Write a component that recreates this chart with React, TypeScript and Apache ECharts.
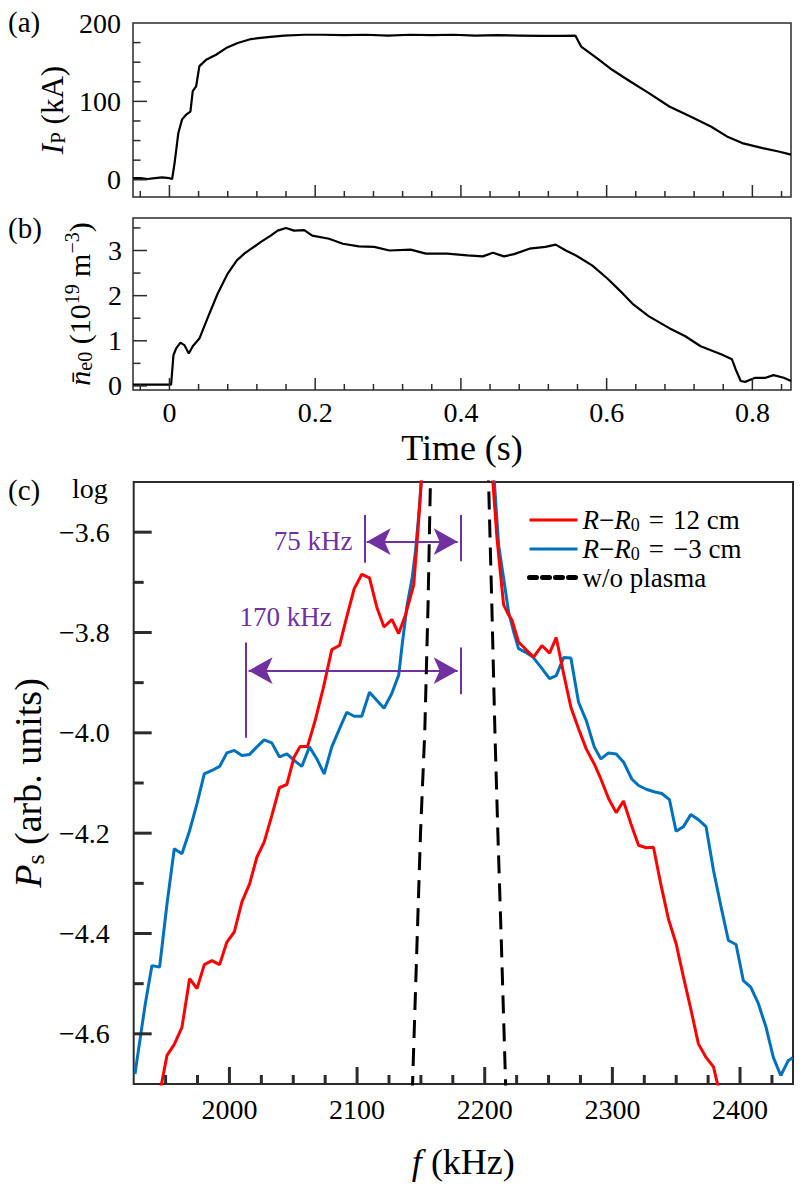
import React, { useEffect, useRef } from 'react';
import * as echarts from 'echarts';

const FONT = 'Liberation Serif';
const PURPLE = '#7030A0';
const AXC = '#2b2b2b';

// ---------- Panel (a): plasma current ----------
const timeA = [-0.05, -0.04, -0.03, -0.02, -0.01, 0.0, 0.0037, 0.007, 0.0123, 0.0174, 0.0229, 0.0288, 0.032, 0.0366, 0.0411, 0.0503, 0.064, 0.0777, 0.0937, 0.112, 0.135, 0.1575, 0.185, 0.21, 0.24, 0.27, 0.3, 0.33, 0.36, 0.39, 0.42, 0.45, 0.48, 0.51, 0.54, 0.557, 0.565, 0.587, 0.608, 0.633, 0.658, 0.686, 0.715, 0.743, 0.765, 0.786, 0.814, 0.836, 0.853];
const currentA = [2, 2, 1, 2, 3, 2, 1, 21, 60, 77, 83, 87, 113, 119, 145, 153, 159.5, 168, 174.5, 179.5, 182, 184, 185, 185, 184.5, 185, 184, 185, 184.5, 185, 184, 184.5, 184, 183.5, 183.5, 184, 170, 155, 140, 125, 110.6, 93.5, 80.8, 68, 55.3, 46.8, 40.4, 36, 32];

// ---------- Panel (b): line-averaged density ----------
const timeB = [-0.05, -0.02, 0.0023, 0.0055, 0.0092, 0.0151, 0.0205, 0.0266, 0.032, 0.0411, 0.0548, 0.0663, 0.08, 0.0925, 0.1027, 0.1256, 0.139, 0.1485, 0.16, 0.171, 0.185, 0.196, 0.219, 0.238, 0.26, 0.281, 0.302, 0.331, 0.352, 0.381, 0.409, 0.43, 0.444, 0.459, 0.473, 0.494, 0.516, 0.53, 0.544, 0.558, 0.58, 0.601, 0.622, 0.637, 0.658, 0.686, 0.708, 0.729, 0.757, 0.772, 0.777, 0.784, 0.79, 0.804, 0.818, 0.829, 0.843, 0.853];
const densityB = [0.03, 0.03, 0.03, 0.68, 0.83, 0.96, 0.905, 0.72, 0.88, 1.05, 1.6, 2.05, 2.49, 2.78, 2.93, 3.19, 3.33, 3.44, 3.5, 3.44, 3.45, 3.33, 3.26, 3.15, 3.09, 3.08, 3.0, 3.02, 2.93, 2.93, 2.89, 2.87, 2.95, 2.87, 2.92, 3.04, 3.08, 3.13, 3.0, 2.89, 2.67, 2.38, 2.05, 1.8, 1.54, 1.28, 1.1, 0.88, 0.7, 0.59, 0.37, 0.11, 0.09, 0.18, 0.18, 0.24, 0.18, 0.11];

// ---------- Panel (c): spectra ----------
const freqRed = [1943.0, 1951.1, 1956.8, 1962.8, 1968.8, 1974.6, 1980.3, 1986.3, 1992.3, 1998.0, 2003.8, 2009.8, 2015.8, 2021.5, 2027.2, 2033.2, 2039.2, 2045.0, 2050.7, 2055.4, 2061.2, 2067.2, 2073.7, 2080.2, 2086.2, 2091.9, 2097.7, 2103.7, 2109.7, 2115.4, 2121.1, 2127.2, 2132.6, 2137.9, 2144.4, 2147.0, 2149.1, 2151.5, 2180.0, 2205.0, 2209.6, 2212.2, 2214.8, 2218.7, 2221.3, 2226.5, 2233.1, 2238.3, 2244.8, 2250.8, 2256.0, 2261.8, 2267.5, 2273.5, 2279.5, 2285.8, 2291.0, 2297.0, 2303.0, 2308.7, 2314.5, 2320.5, 2326.5, 2332.2, 2337.9, 2343.9, 2350.0, 2355.7, 2361.4, 2367.4, 2373.4, 2379.2, 2385.2];
const psRed = [-4.75, -4.643, -4.621, -4.587, -4.49, -4.51, -4.462, -4.454, -4.462, -4.417, -4.397, -4.337, -4.301, -4.248, -4.218, -4.165, -4.109, -4.103, -4.048, -4.027, -4.027, -3.975, -3.909, -3.834, -3.826, -3.769, -3.713, -3.684, -3.691, -3.749, -3.789, -3.774, -3.802, -3.765, -3.705, -3.619, -3.546, -3.45, -3.0, -3.45, -3.612, -3.679, -3.745, -3.765, -3.775, -3.819, -3.836, -3.849, -3.826, -3.841, -3.81, -3.882, -3.949, -3.992, -4.032, -4.062, -4.092, -4.131, -4.159, -4.136, -4.181, -4.224, -4.229, -4.228, -4.301, -4.371, -4.421, -4.487, -4.55, -4.62, -4.647, -4.666, -4.73];

const freqBlue = [1926.0, 1930.2, 1934.1, 1939.3, 1945.3, 1951.1, 1956.8, 1962.8, 1968.8, 1974.6, 1980.3, 1986.3, 1992.3, 1998.0, 2003.8, 2009.8, 2015.8, 2021.5, 2027.2, 2033.2, 2039.2, 2045.0, 2050.7, 2056.7, 2062.7, 2068.5, 2074.2, 2080.2, 2086.2, 2091.9, 2097.7, 2103.7, 2109.7, 2115.4, 2121.1, 2127.1, 2132.6, 2135.3, 2139.2, 2143.1, 2145.7, 2148.3, 2150.8, 2180.0, 2206.5, 2210.9, 2214.8, 2218.7, 2222.6, 2226.5, 2231.8, 2237.8, 2244.0, 2250.8, 2256.0, 2261.8, 2267.5, 2273.5, 2279.5, 2285.8, 2291.0, 2297.0, 2303.0, 2308.7, 2315.2, 2320.5, 2327.0, 2333.5, 2338.7, 2344.7, 2349.9, 2355.7, 2361.4, 2367.4, 2373.4, 2379.2, 2384.9, 2390.9, 2396.9, 2402.6, 2408.4, 2414.4, 2420.4, 2426.1, 2431.9, 2437.9, 2441.2];
const psBlue = [-4.68, -4.607, -4.54, -4.464, -4.467, -4.341, -4.231, -4.241, -4.195, -4.141, -4.082, -4.075, -4.067, -4.04, -4.035, -4.045, -4.043, -4.028, -4.014, -4.02, -4.048, -4.042, -4.055, -4.067, -4.028, -4.052, -4.082, -4.028, -3.992, -3.959, -3.967, -3.967, -3.919, -3.935, -3.951, -3.922, -3.885, -3.825, -3.745, -3.692, -3.639, -3.566, -3.48, -3.0, -3.46, -3.626, -3.692, -3.759, -3.798, -3.832, -3.839, -3.849, -3.869, -3.892, -3.886, -3.85, -3.851, -3.939, -3.975, -4.028, -4.052, -4.04, -4.042, -4.058, -4.092, -4.105, -4.113, -4.118, -4.121, -4.133, -4.196, -4.187, -4.163, -4.173, -4.187, -4.274, -4.344, -4.414, -4.422, -4.494, -4.507, -4.54, -4.587, -4.647, -4.683, -4.653, -4.648];

const freqVac = [2143.2, 2147.2, 2149.7, 2153.0, 2155.6, 2157.6, 2180.0, 2202.8, 2205.7, 2208.0, 2210.3, 2212.8, 2216.6];
const psVac = [-4.72, -4.4, -4.2, -4.0, -3.745, -3.48, -2.0, -3.48, -3.758, -4.0, -4.2, -4.4, -4.72];

// ---------- annotations (data coordinates) ----------
const widthLabels = ['75 kHz', '170 kHz'];
const widthLabelF = [2065.5, 2044.0];
const widthLabelP = [-3.618, -3.769];
const barLeftF = [2106.3, 2012.5];
const barRightF = [2181.6, 2181.6];
const barLeftP = [[-3.566, -3.661], [-3.82, -4.01]];
const barRightP = [[-3.566, -3.658], [-3.83, -3.923]];
const arrowP = [-3.619, -3.876];
const arrowTipL = [2107.5, 2015.0];
const arrowTipR = [2178.8, 2178.8];

// ---------- axis extents ----------
const timeRange = [-0.05, 0.853];
const ipRange = [-22, 200];
const neRange = [-0.09, 3.72];
const freqRange = [1925, 2441.5];
const psRange = [-4.7, -3.5];

const NAME_RED = 'R−R0 = 12 cm';
const NAME_BLUE = 'R−R0 = −3 cm';
const NAME_VAC = 'w/o plasma';

const zip = (xs: number[], ys: number[]) => xs.map((x, i) => [x, ys[i]]);

function richSet(size: number, lh: number) {
  const sub = Math.round(size * 0.68);
  return {
    i: { fontFamily: FONT, fontStyle: 'italic', fontSize: size, lineHeight: lh, color: '#000', verticalAlign: 'middle' },
    r: { fontFamily: FONT, fontSize: size, lineHeight: lh, color: '#000', verticalAlign: 'middle' },
    s: { fontFamily: FONT, fontSize: sub, lineHeight: lh, color: '#000', verticalAlign: 'middle', padding: [Math.round(size * 0.36), 0, 0, 0] },
    u: { fontFamily: FONT, fontSize: sub, lineHeight: lh, color: '#000', verticalAlign: 'middle', padding: [0, 0, Math.round(size * 0.5), 0] },
  };
}

const yLabelC = (v: number) => (v < 0 ? '\u2212' : '') + Math.abs(v).toFixed(1);

// tick values (between the box edges) for an axis: [value, isMajor]
function tickValues(range: number[], step: number, split: number): [number, boolean][] {
  const minorStep = step / split;
  const out: [number, boolean][] = [];
  const k0 = Math.ceil(range[0] / minorStep - 1e-6);
  const k1 = Math.floor(range[1] / minorStep + 1e-6);
  for (let k = k0; k <= k1; k++) {
    const v = Number((k * minorStep).toFixed(6));
    if (v <= range[0] + minorStep * 1e-3 || v >= range[1] - minorStep * 1e-3) continue;
    out.push([v, Math.abs(k % split) === 0]);
  }
  return out;
}

export default function App() {
  const ref = useRef<HTMLDivElement>(null);
  useEffect(() => {
    if (!ref.current) return;
    const chart = echarts.init(ref.current, undefined, { renderer: 'svg' });

    const tickLbl = { fontFamily: FONT, fontSize: 28, color: '#000' };
    const hiddenLine = { show: false, onZero: false };
    const gridBox = { show: true, borderColor: AXC, borderWidth: 1.5, backgroundColor: 'transparent' };

    const annoMarkLines: any[] = [];
    for (let k = 0; k < widthLabels.length; k++) {
      annoMarkLines.push([{ coord: [barLeftF[k], barLeftP[k][0]], symbol: 'none' }, { coord: [barLeftF[k], barLeftP[k][1]], symbol: 'none' }]);
      annoMarkLines.push([{ coord: [barRightF[k], barRightP[k][0]], symbol: 'none' }, { coord: [barRightF[k], barRightP[k][1]], symbol: 'none' }]);
      annoMarkLines.push([
        { coord: [arrowTipL[k], arrowP[k]], symbol: 'arrow', symbolSize: [20, 24] },
        { coord: [arrowTipR[k], arrowP[k]], symbol: 'arrow', symbolSize: [20, 24] },
      ]);
    }

    const option: any = {
      animation: false,
      backgroundColor: '#fff',
      grid: [
        { left: 133, top: 23, width: 658, height: 174, ...gridBox },
        { left: 133, top: 218, width: 658, height: 172, ...gridBox },
        { left: 133, top: 482, width: 660, height: 602, ...gridBox, borderWidth: 2 },
      ],
      xAxis: [
        {
          gridIndex: 0, type: 'value', position: 'bottom', min: timeRange[0], max: timeRange[1], minInterval: 0.2, maxInterval: 0.2,
          axisLine: hiddenLine, axisTick: { show: false }, minorTick: { show: false },
          axisLabel: { show: false }, splitLine: { show: false },
        },
        {
          gridIndex: 1, type: 'value', position: 'bottom', min: timeRange[0], max: timeRange[1], minInterval: 0.2, maxInterval: 0.2,
          axisLine: hiddenLine, axisTick: { show: false }, minorTick: { show: false },
          axisLabel: { ...tickLbl, margin: 8, showMinLabel: false, showMaxLabel: false, formatter: (v: number) => (v === 0 ? '0' : v.toFixed(1)) },
          splitLine: { show: false },
          name: 'Time (s)', nameLocation: 'middle', nameGap: 40,
          nameTextStyle: { fontFamily: FONT, fontSize: 36, color: '#000' },
        },
        {
          gridIndex: 2, type: 'value', position: 'bottom', min: freqRange[0], max: freqRange[1], minInterval: 100, maxInterval: 100,
          axisLine: hiddenLine, axisTick: { show: false }, minorTick: { show: false },
          axisLabel: { ...tickLbl, margin: 11, showMinLabel: false, showMaxLabel: false, formatter: (v: number) => String(Math.round(v)) },
          splitLine: { show: false },
          name: '{i|f} (kHz)', nameLocation: 'middle', nameGap: 58,
          nameTextStyle: { fontFamily: FONT, fontSize: 36, color: '#000', rich: richSet(36, 40) },
        },
      ],
      yAxis: [
        {
          gridIndex: 0, type: 'value', position: 'left', min: ipRange[0], max: ipRange[1], minInterval: 100, maxInterval: 100,
          axisLine: hiddenLine, axisTick: { show: false }, minorTick: { show: false },
          axisLabel: { ...tickLbl, margin: 12, showMinLabel: false },
          splitLine: { show: false },
          name: '{i|I}{s|P} (kA)', nameLocation: 'middle', nameGap: 63, nameRotate: 90,
          nameTextStyle: { fontFamily: FONT, fontSize: 31, color: '#000', rich: richSet(31, 34) },
        },
        {
          gridIndex: 1, type: 'value', position: 'left', min: neRange[0], max: neRange[1], minInterval: 1, maxInterval: 1,
          axisLine: hiddenLine, axisTick: { show: false }, minorTick: { show: false },
          axisLabel: { ...tickLbl, margin: 11, showMinLabel: false, showMaxLabel: false },
          splitLine: { show: false },
          name: '{i|n\u0304}{s|e0} (10{u|19} m{u|\u22123})', nameLocation: 'middle', nameGap: 24, nameRotate: 90,
          nameTextStyle: { fontFamily: FONT, fontSize: 30, color: '#000', rich: richSet(30, 34) },
        },
        {
          gridIndex: 2, type: 'value', position: 'left', min: psRange[0], max: psRange[1], minInterval: 0.2, maxInterval: 0.2,
          axisLine: hiddenLine, axisTick: { show: false }, minorTick: { show: false },
          axisLabel: { ...tickLbl, margin: 24, showMinLabel: false, showMaxLabel: false, formatter: yLabelC },
          splitLine: { show: false },
          name: '{i|P}{s|s} (arb. units)', nameLocation: 'middle', nameGap: 80, nameRotate: 90,
          nameTextStyle: { fontFamily: FONT, fontSize: 38, color: '#000', rich: richSet(38, 42) },
        },
      ],
      legend: {
        orient: 'vertical', left: 522, top: 501, itemWidth: 48, itemHeight: 14, itemGap: 1,
        selectedMode: false,
        data: [
          { name: NAME_RED },
          { name: NAME_BLUE },
          { name: NAME_VAC, lineStyle: { type: [7, 6], width: 5, cap: 'round' } },
        ],
        itemStyle: { opacity: 0, borderWidth: 0 },
        lineStyle: { width: 3, opacity: 1 },
        textStyle: { fontFamily: FONT, fontSize: 27, color: '#000', lineHeight: 26, rich: richSet(27, 26) },
        formatter: (n: string) => {
          if (n === NAME_RED) return '{i|R}{r|\u2212}{i|R}{s|0}{r|\u2004=\u200412 cm}';
          if (n === NAME_BLUE) return '{i|R}{r|\u2212}{i|R}{s|0}{r|\u2004=\u2004\u22123 cm}';
          return '{r|w/o plasma}';
        },
      },
      series: [
        {
          type: 'line', name: 'Ip', xAxisIndex: 0, yAxisIndex: 0, data: zip(timeA, currentA),
          showSymbol: false, symbol: 'none', lineStyle: { color: '#000', width: 2.2 }, itemStyle: { color: '#000' },
        },
        {
          type: 'line', name: 'ne0', xAxisIndex: 1, yAxisIndex: 1, data: zip(timeB, densityB),
          showSymbol: false, symbol: 'none', lineStyle: { color: '#000', width: 2.2 }, itemStyle: { color: '#000' },
        },
        {
          type: 'line', name: NAME_BLUE, xAxisIndex: 2, yAxisIndex: 2, data: zip(freqBlue, psBlue), z: 3,
          showSymbol: false, symbol: 'none', lineStyle: { color: '#0072BD', width: 3 }, itemStyle: { color: '#0072BD' },
        },
        {
          type: 'line', name: NAME_RED, xAxisIndex: 2, yAxisIndex: 2, data: zip(freqRed, psRed), z: 4,
          showSymbol: false, symbol: 'none', lineStyle: { color: '#ff0000', width: 3 }, itemStyle: { color: '#ff0000' },
        },
        {
          type: 'line', name: NAME_VAC, xAxisIndex: 2, yAxisIndex: 2, data: zip(freqVac, psVac), z: 5,
          showSymbol: false, symbol: 'none', lineStyle: { color: '#000', width: 3, type: [18, 10] }, itemStyle: { color: '#000' },
        },
        {
          type: 'line', name: 'annotations', xAxisIndex: 2, yAxisIndex: 2, data: [], z: 6,
          markLine: {
            silent: true, symbol: 'none', symbolSize: [20, 24], animation: false,
            label: { show: false },
            lineStyle: { color: PURPLE, width: 2, type: 'solid' },
            emphasis: { disabled: true },
            data: annoMarkLines,
          },
          markPoint: {
            silent: true, symbol: 'circle', symbolSize: 1, itemStyle: { color: 'rgba(0,0,0,0)' },
            label: { show: true, position: 'inside', color: PURPLE, fontFamily: FONT, fontSize: 27, formatter: (p: any) => p.name },
            data: widthLabels.map((t, k) => ({ name: t, coord: [widthLabelF[k], widthLabelP[k]] })),
          },
        },
      ],
    };
    chart.setOption(option);

    // panel letters and inward tick marks, placed through the axes' own scales
    const elements: any[] = [
      { type: 'text', x: 8, y: 22, z: 100, style: { text: '(a)', fontFamily: FONT, fontSize: 29, fill: '#000', verticalAlign: 'middle' } },
      { type: 'text', x: 8, y: 228, z: 100, style: { text: '(b)', fontFamily: FONT, fontSize: 29, fill: '#000', verticalAlign: 'middle' } },
      { type: 'text', x: 8, y: 490, z: 100, style: { text: '(c)', fontFamily: FONT, fontSize: 29, fill: '#000', verticalAlign: 'middle' } },
      { type: 'text', x: 72, y: 488, z: 100, style: { text: 'log', fontFamily: FONT, fontSize: 28, fill: '#000', verticalAlign: 'middle' } },
    ];
    const addTicks = (grid: number, side: 'x' | 'y', range: number[], other: number[], step: number, split: number, majorLen: number, minorLen: number, w: number) => {
      for (const [v, major] of tickValues(range, step, split)) {
        const len = major ? majorLen : minorLen;
        const p = chart.convertToPixel({ gridIndex: grid } as any, side === 'x' ? [v, other[0]] : [other[0], v]) as number[];
        if (!p || !isFinite(p[0]) || !isFinite(p[1])) continue;
        const shape = side === 'x'
          ? { x1: p[0], y1: p[1], x2: p[0], y2: p[1] - len }
          : { x1: p[0], y1: p[1], x2: p[0] + len, y2: p[1] };
        elements.push({ type: 'line', z: 100, silent: true, shape, style: { stroke: AXC, lineWidth: w } });
      }
    };
    addTicks(0, 'x', timeRange, ipRange, 0.2, 5, 12, 6, 1.5);
    addTicks(0, 'y', ipRange, timeRange, 100, 4, 14, 7.5, 1.5);
    addTicks(1, 'x', timeRange, neRange, 0.2, 5, 12, 6, 1.5);
    addTicks(1, 'y', neRange, timeRange, 1, 2, 14, 7.5, 1.5);
    addTicks(2, 'x', freqRange, psRange, 100, 4, 17, 9, 3);
    addTicks(2, 'y', psRange, freqRange, 0.2, 2, 18, 10, 3);
    chart.setOption({ graphic: elements });

    return () => chart.dispose();
  }, []);
  return <div ref={ref} style={{ position: 'absolute', left: 0, top: 0, width: 811, height: 1193 }} />;
}
